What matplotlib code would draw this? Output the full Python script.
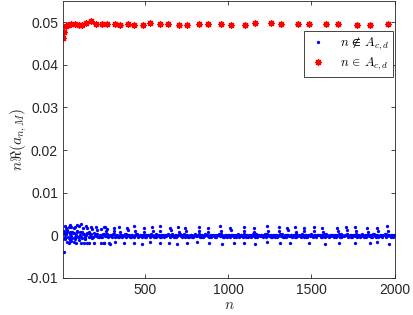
import numpy as np
import matplotlib
matplotlib.use("Agg")
import matplotlib.pyplot as plt

plt.rcParams["font.family"] = ["Liberation Sans", "DejaVu Sans"]
plt.rcParams["mathtext.fontset"] = "cm"
plt.rcParams["axes.unicode_minus"] = False

# n in A_{c,d}  (red stars)
red_n = [12, 16, 28, 42, 58, 84, 104, 124, 150, 178, 205, 245, 271, 319, 349, 397, 435,
         492, 532, 594, 638, 706, 752, 825, 879, 960, 1015, 1102, 1162, 1255, 1317, 1418,
         1484, 1590, 1659, 1773, 1849, 1960]
red_v = [0.0463, 0.0476, 0.0492, 0.0494, 0.0495, 0.0497, 0.0493, 0.0493, 0.0499, 0.0503,
         0.0496, 0.0495, 0.0496, 0.0495, 0.0494, 0.0495, 0.0494, 0.0493, 0.0498, 0.0497,
         0.0497, 0.0493, 0.0493, 0.0495, 0.0496, 0.0496, 0.0494, 0.0493, 0.0498, 0.0498,
         0.0495, 0.0496, 0.0495, 0.0495, 0.0495, 0.0494, 0.0494, 0.0495]

# n not in A_{c,d}  (blue dots), values in units of 1e-4
# dense band near zero, sampled every 10 n (two interleaved rows)
band_n = np.arange(10, 2001, 10)
band_v = [6, -7, 3, -5, 8, -2, 5, -6, 2, -4, 7, -3, 4, -6, 1, 5, -4, 3, -5, 2,
          4, -3, 2, -4, 3, -2, 4, -3, 1, -2,
          4, -3, 1, -4, 2, 0, -1, 4, -3, 1, -4, 2, -1, 0, 4, -3, 2, -1, 1, -4,
          2, 0, -3, 4, -1, 1, -3, 2, -4, 1, 0, 2, -1, 4, -3, 1, -1, 2, -4, 0,
          4, -1, 1, -3, 2, -4, 1, 0, -3, 4, -1, 2, -3, 1, -4, 4, 0, -1, 2, -3,
          1, -4, 2, 0, -1, 4, -3, 1, -1, 2, -4, 1, 0, 2, -3, 4, -1, 1, -3, 0,
          2, -4, 1, -1, 4, -3, 0, 2, -1, 1, -3, 4, -1, 0, 2, -4, 1, -3, 2, -1,
          4, 0, -3, 1, -4, 2, -1, 1, 0, -3, 4, -1, 2, -4, 1, 0, -3, 2, -1, 4,
          -3, 1, -1, 2, 0, -4, 1, -3, 4, -1, 2, -1, 0, 1, -4, 2, -3, 4, -1, 0,
          1, -3, 2, -4, 1, -1, 4, 0, -3, 2, -1, 1, -4, 2, 0, -3, 4, -1, 1, -3,
          2, -1, 0, 4, -3, 1, -1, 2, -4, 1]
band2_n = np.arange(5, 2000, 10)
band2_v = [-8, 5, -4, 9, -6, 3, -7, 6, -3, 8, -5, 2, -6, 4, -2, 6, -5, 4, -3, 5,
           -2, 4, -3, 2, -4, 3, -1, 3, -2, 2,
           -3, 4, -1, 1, -4, 2, -3, 0, 4, -1, 2, -4, 1, -3, 0, 4, -1, 2, -3, 1,
           -4, 1, 2, -1, 0, -3, 4, -1, 1, -3, 2, -4, 1, 0, 2, -1, 4, -3, 1, -1,
           0, 2, -3, 4, -1, 1, -3, 2, -4, 1, 0, -1, 4, -3, 1, -1, 2, 0, -4, 2,
           -1, 2, -3, 1, 4, -1, 0, -3, 2, -4, 1, -1, 2, -3, 0, 1, -4, 2, -1, 4,
           -3, 1, 0, -4, 2, -1, 4, -3, 1, -1, 0, 2, -3, 4, -1, 1, -3, 0, 2, -4,
           1, -1, 4, -3, 0, 2, -1, 1, -4, 2, -3, 0, 1, -1, 4, -3, 2, -4, 1, 0,
           -1, 2, -4, 1, 0, 2, -3, 4, -1, 1, -3, 2, 0, -4, 1, -1, 4, -3, 2, -1,
           0, 4, -1, 2, -3, 0, 1, -4, 2, -1, 4, -3, 1, 0, -1, 2, -3, 4, -4, 1,
           -1, 2, -3, 0, 4, -1, 1, -3, 2, 0]

# scattered points for small n
early_n = [20, 30, 44, 50, 60, 76, 82, 92, 106, 116, 130, 146, 156, 176, 186, 206, 216, 236, 256, 276,
           18, 36, 46, 56, 76, 90, 116, 136, 156, 166, 196, 236, 256, 286,
           15, 25, 35, 55, 65, 85, 95, 105, 125, 145, 165, 185]
early_v = [22, 18, 19, 25, 20, 18, 20, 25, 22, 26, 17, 21, 17, 20, 14, 20, 13, 14, 20, 14,
           -38, -15, -17, -13, -15, -17, -18, -17, -18, -19, -17, -18, -19, -18,
           10, -9, 12, -11, 9, -8, 11, -10, 8, -9, 7, -7]

# periodic outliers above / below the band
top_n = [264, 314, 348, 394, 438, 494, 544, 590, 654, 700, 744, 824, 878, 954, 1014,
         1094, 1154, 1234, 1304, 1354, 1404, 1454, 1514, 1564, 1654, 1708, 1764, 1834, 1894, 1954]
top_v = [19, 17, 20, 18, 21, 17, 19, 22, 18, 20, 17, 19, 18, 21, 17,
         20, 18, 22, 19, 17, 20, 18, 19, 17, 18, 20, 19, 18, 17, 21]
top2_n = [268, 318, 352, 398, 442, 498, 548, 594, 658, 704, 748, 828, 882, 958, 1018,
          1098, 1158, 1238, 1308, 1358, 1408, 1458, 1518, 1568, 1658, 1712, 1768, 1838, 1898, 1958]
top2_v = [10, 11, 9, 12, 10, 9, 11, 10, 12, 9, 10, 11, 9, 10, 12,
          10, 9, 11, 10, 12, 9, 10, 11, 9, 10, 12, 10, 9, 11, 10]
bot_n = [254, 294, 324, 374, 434, 484, 534, 594, 644, 694, 754, 814, 884, 964, 1034,
         1094, 1164, 1234, 1314, 1374, 1484, 1584, 1664, 1764, 1854, 1894, 1964]
bot_v = [-17, -20, -16, -19, -18, -21, -16, -19, -17, -20, -18, -16, -19, -21, -17,
         -18, -20, -16, -19, -17, -18, -20, -17, -19, -18, -16, -20]

blue_n = np.concatenate([band_n, band2_n, early_n, top_n, top2_n, bot_n])
blue_v = np.concatenate([band_v, band2_v, early_v, top_v, top2_v, bot_v]) * 1e-4

fig = plt.figure(figsize=(4.13, 3.15), dpi=100)
ax = fig.add_axes([0.1525, 0.1175, 0.8035, 0.8795])

ax.plot(blue_n, blue_v, ".", color="blue", ms=2.7, label=r"$n \,\notin\, A_{c,d}$")
ax.plot(red_n, red_v, marker=(8, 2, 0), ls="none", color="red", ms=4.8, mew=0.9,
        label=r"$n \,\in\, A_{c,d}$")

ax.set_xlim(10, 2000)
ax.set_ylim(-0.01, 0.055)
ax.set_xticks([500, 1000, 1500, 2000])
yt = [-0.01, 0, 0.01, 0.02, 0.03, 0.04, 0.05]
ax.set_yticks(yt)
ax.set_yticklabels(["-0.01", "0", "0.01", "0.02", "0.03", "0.04", "0.05"])

gray = (0.15, 0.15, 0.15)
for s in ax.spines.values():
    s.set_color(gray)
    s.set_linewidth(0.6)
ax.tick_params(direction="in", top=True, right=True, length=3, width=0.6,
               colors=gray, labelsize=10)

ax.set_xlabel(r"$n$", fontsize=11, color=gray, labelpad=1)
ax.set_ylabel(r"$n\Re(a_{n,M})$", fontsize=11, color=gray, labelpad=-2)

leg = ax.legend(loc="upper right", bbox_to_anchor=(0.995, 0.89), fontsize=9.2,
                fancybox=False, framealpha=1, edgecolor=gray, borderpad=0.35,
                handlelength=1.6, handletextpad=0.9, labelspacing=0.25, borderaxespad=0)
leg.get_frame().set_linewidth(0.6)

fig.savefig("out.png", dpi=100)
